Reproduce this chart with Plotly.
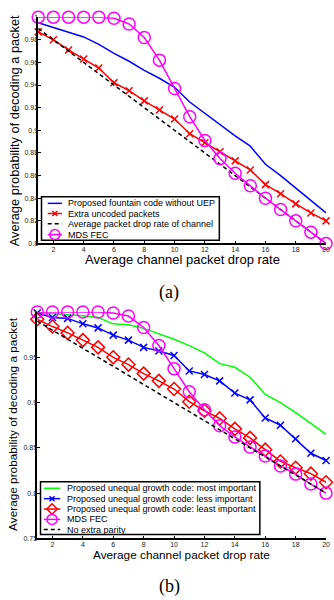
import plotly.graph_objects as go

# ---------------- data ----------------
drop_rate = [1, 2, 3, 4, 5, 6, 7, 8, 9, 10, 11, 12, 13, 14, 15, 16, 17, 18, 19, 20]

# (a)
a_fountain = [0.995, 0.991, 0.987, 0.9825, 0.976, 0.968, 0.961, 0.953, 0.946, 0.938,
              0.925, 0.915, 0.905, 0.895, 0.886, 0.870, 0.860, 0.849, 0.838, 0.827]
a_uncoded = [0.987, 0.980, 0.971, 0.963, 0.955, 0.942, 0.935, 0.926, 0.918, 0.910,
             0.897, 0.889, 0.881, 0.873, 0.865, 0.852, 0.844, 0.835, 0.827, 0.820]
a_channel = [0.99, 0.98, 0.97, 0.96, 0.95, 0.94, 0.93, 0.92, 0.91, 0.90,
             0.89, 0.88, 0.87, 0.86, 0.85, 0.84, 0.83, 0.82, 0.81, 0.80]
a_mds = [1.0, 1.0, 1.0, 1.0, 1.0, 0.999, 0.994, 0.982, 0.962, 0.937,
         0.912, 0.891, 0.875, 0.862, 0.851, 0.840, 0.830, 0.820, 0.810, 0.800]

# (b)
b_most = [0.9995, 0.998, 0.997, 0.996, 0.994, 0.987, 0.986, 0.982, 0.976, 0.970,
          0.963, 0.955, 0.943, 0.939, 0.928, 0.909, 0.900, 0.889, 0.877, 0.865]
b_less = [0.999, 0.994, 0.993, 0.987, 0.9825, 0.9745, 0.969, 0.961, 0.957, 0.952,
          0.935, 0.931, 0.924, 0.9105, 0.903, 0.883, 0.875, 0.860, 0.844, 0.836]
b_least = [0.992, 0.984, 0.977, 0.969, 0.961, 0.950, 0.942, 0.932, 0.924, 0.915,
           0.901, 0.891, 0.8825, 0.871, 0.861, 0.848, 0.835, 0.828, 0.8215, 0.812]
b_mds = [1.0, 1.0, 1.0, 1.0, 1.0, 0.999, 0.9956, 0.983, 0.963, 0.9375,
         0.912, 0.892, 0.8745, 0.862, 0.851, 0.841, 0.830, 0.821, 0.810, 0.800]
b_noparity = [0.99, 0.98, 0.97, 0.96, 0.95, 0.94, 0.93, 0.92, 0.91, 0.90,
              0.89, 0.88, 0.87, 0.86, 0.85, 0.84, 0.83, 0.82, 0.81, 0.80]

x_ticks = [2, 4, 6, 8, 10, 12, 14, 16, 18, 20]
a_yticks = [0.8, 0.82, 0.84, 0.86, 0.88, 0.9, 0.92, 0.94, 0.96, 0.98, 1.0]
a_yticktext = ["0.8", "0.82", "0.84", "0.86", "0.88", "0.9", "0.92", "0.94", "0.96", "0.98", "1"]
b_yticks = [0.75, 0.8, 0.85, 0.9, 0.95, 1.0]
b_yticktext = ["0.75", "0.8", "0.85", "0.9", "0.95", "1"]

a_names = ["Proposed fountain code without UEP", "Extra uncoded packets",
           "Average packet drop rate of channel", "MDS FEC"]
b_names = ["Proposed unequal growth code: most important",
           "Proposed unequal growth code: less important",
           "Proposed unequal growth code: least important",
           "MDS FEC", "No extra parity"]
x_title = "Average channel packet drop rate"
y_title = "Average probability of decoding a packet"

# ---------------- styles ----------------
W, H = 334, 600
BLUE, RED, MAG, GREEN, BLACK = "#0000ff", "#ff0000", "#ff00ff", "#00ff00", "#000000"
FONT = "Liberation Sans, Arial, Helvetica, sans-serif"
LW = 1.5

styles_a = [
    dict(color=BLUE, dash="solid", symbol=None),
    dict(color=RED, dash="solid", symbol="x-thin-open", size=7),
    dict(color=BLACK, dash="4px,3px", symbol=None),
    dict(color=MAG, dash="solid", symbol="circle-open", size=12),
]
styles_b = [
    dict(color=GREEN, dash="solid", symbol=None),
    dict(color=BLUE, dash="solid", symbol="x-thin-open", size=7),
    dict(color=RED, dash="solid", symbol="diamond-open", size=10),
    dict(color=MAG, dash="solid", symbol="circle-open", size=12),
    dict(color=BLACK, dash="4px,3px", symbol=None),
]

fig = go.Figure()


def add_series(ys, st, xa, ya):
    mode = "lines+markers" if st["symbol"] else "lines"
    kw = {}
    if st["symbol"]:
        kw["marker"] = dict(symbol=st["symbol"], size=st["size"], color=st["color"],
                            line=dict(color=st["color"], width=LW))
    fig.add_trace(go.Scatter(x=drop_rate, y=ys, mode=mode, xaxis=xa, yaxis=ya,
                             line=dict(color=st["color"], width=LW, dash=st["dash"]),
                             cliponaxis=False, showlegend=False, **kw))


for ys, st in zip([a_fountain, a_uncoded, a_channel, a_mds], styles_a):
    add_series(ys, st, "x", "y")
for ys, st in zip([b_most, b_less, b_least, b_mds, b_noparity], styles_b):
    add_series(ys, st, "x2", "y2")


def px_x(p):
    return p / W


def px_y(p):
    return 1 - p / H


axis_common = dict(showgrid=False, zeroline=False, showline=True, linecolor="black",
                   linewidth=1.5, ticks="inside", ticklen=3, tickwidth=1, tickcolor="black",
                   tickfont=dict(size=7, color="#222", family=FONT), mirror=False)

fig.update_layout(
    width=W, height=H, margin=dict(l=0, r=0, t=0, b=0),
    paper_bgcolor="white", plot_bgcolor="rgba(0,0,0,0)", showlegend=False,
    xaxis=dict(domain=[px_x(38.7), px_x(330)], range=[1, 20], tickvals=x_ticks,
               anchor="y", ticklabelstandoff=-2, **axis_common),
    yaxis=dict(domain=[px_y(242.3), px_y(13.3)], range=[0.8, 1.0], tickvals=a_yticks,
               ticktext=a_yticktext, anchor="x", ticklabelstandoff=-3, **axis_common),
    xaxis2=dict(domain=[px_x(37.7), px_x(330)], range=[1, 20], tickvals=x_ticks,
                anchor="y2", ticklabelstandoff=-2, **axis_common),
    yaxis2=dict(domain=[px_y(540.7), px_y(311.7)], range=[0.75, 1.0], tickvals=b_yticks,
                ticktext=b_yticktext, anchor="x2", ticklabelstandoff=-3, **axis_common),
    # pixel overlay for the hand-drawn legends
    xaxis3=dict(domain=[0, 1], range=[0, W], visible=False, anchor="y3", fixedrange=True),
    yaxis3=dict(domain=[0, 1], range=[H, 0], visible=False, anchor="x3", fixedrange=True),
)

annotations = []
shapes = []

annotations += [
    dict(text=x_title, x=px_x(185), y=px_y(259), xref="paper", yref="paper",
         showarrow=False, font=dict(size=13, family=FONT, color="black"),
         xanchor="center", yanchor="middle"),
    dict(text=y_title, x=px_x(15), y=px_y(128), xref="paper", yref="paper",
         showarrow=False, textangle=-90, font=dict(size=12.8, family=FONT, color="black"),
         xanchor="center", yanchor="middle"),
    dict(text="(a)", x=px_x(171.5), y=px_y(291.5), xref="paper", yref="paper",
         showarrow=False, font=dict(size=18, family="Liberation Serif, Times New Roman, serif",
                                    color="black"), xanchor="center", yanchor="middle"),
    dict(text=x_title, x=px_x(183.7), y=px_y(557.5), xref="paper", yref="paper",
         showarrow=False, font=dict(size=11.8, family=FONT, color="black"),
         xanchor="center", yanchor="middle"),
    dict(text=y_title, x=px_x(13), y=px_y(425), xref="paper", yref="paper",
         showarrow=False, textangle=-90, font=dict(size=11.8, family=FONT, color="black"),
         xanchor="center", yanchor="middle"),
    dict(text="(b)", x=px_x(171.5), y=px_y(589.5), xref="paper", yref="paper",
         showarrow=False, font=dict(size=18, family="Liberation Serif, Times New Roman, serif",
                                    color="black"), xanchor="center", yanchor="middle"),
]


def draw_legend(box, rows, names, styles, line_x0, line_x1, text_x, fsize):
    x0, y0, x1, y1 = box
    shapes.append(dict(type="rect", xref="x3", yref="y3", x0=x0, y0=y0, x1=x1, y1=y1,
                       line=dict(color="black", width=1.5), fillcolor="white", layer="below"))
    for yy, name, st in zip(rows, names, styles):
        shapes.append(dict(type="line", xref="x3", yref="y3", x0=line_x0, x1=line_x1,
                           y0=yy, y1=yy, line=dict(color=st["color"], width=LW,
                                                    dash=st["dash"])))
        if st["symbol"]:
            fig.add_trace(go.Scatter(x=[(line_x0 + line_x1) / 2], y=[yy], mode="markers",
                                     xaxis="x3", yaxis="y3", cliponaxis=False,
                                     showlegend=False, hoverinfo="skip",
                                     marker=dict(symbol=st["symbol"], size=st["size"] - 2,
                                                 color=st["color"],
                                                 line=dict(color=st["color"], width=LW))))
        annotations.append(dict(text=name, x=text_x, y=yy, xref="x3", yref="y3",
                                showarrow=False, xanchor="left", yanchor="middle",
                                font=dict(size=fsize, family=FONT, color="black")))


draw_legend((42, 195, 222, 239), [201.7, 212, 222.3, 233.3], a_names, styles_a,
            48.3, 62.7, 67.0, 9)
draw_legend((41, 483.3, 263, 536.7), [490, 500.5, 511, 521.5, 531.7], b_names, styles_b,
            44.3, 61, 66.0, 9)

fig.update_layout(annotations=annotations, shapes=shapes)
fig.write_html("out.html", config={"displayModeBar": False},
               post_script="document.body.style.margin='0';document.body.style.overflow='hidden';")
